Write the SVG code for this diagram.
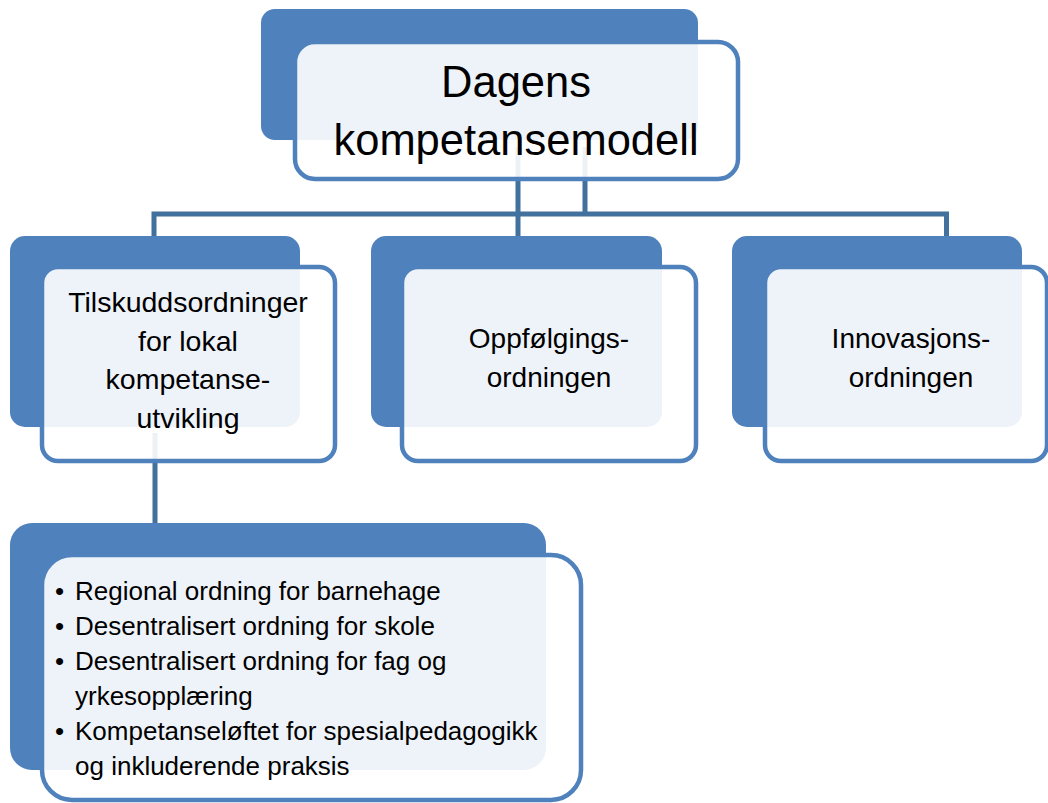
<svg xmlns="http://www.w3.org/2000/svg" width="1048" height="803" viewBox="0 0 1048 803">
<style>
.back{fill:#4F81BD}
.front{fill:#FFFFFF;fill-opacity:0.9;stroke:#4F81BD;stroke-width:4.5}
.conn{stroke:#41719C;stroke-width:5;fill:none}
.t{font-family:"Liberation Sans",Arial,sans-serif;fill:#000;text-anchor:middle}
.b{font-family:"Liberation Sans",Arial,sans-serif;fill:#000;font-size:26px}
</style>
<rect width="1048" height="803" fill="#FFFFFF"/>
<g id="backs">
<rect class="back" x="261" y="9" width="437" height="131" rx="14"/>
<rect class="back" x="10" y="236" width="290" height="191" rx="15"/>
<rect class="back" x="371" y="236" width="291" height="191" rx="15"/>
<rect class="back" x="732" y="236" width="290" height="191" rx="15"/>
<rect class="back" x="10" y="523" width="536" height="247" rx="22"/>
</g>
<g id="connectors">
<polyline class="conn" points="154,236 154,214 946.5,214 946.5,236"/>
<line class="conn" x1="518" y1="147" x2="518" y2="236"/>
<line class="conn" x1="585" y1="147" x2="585" y2="214"/>
<line class="conn" x1="155" y1="433" x2="155" y2="523"/>
</g>
<g id="node-top">
<rect class="front" x="295" y="42" width="443" height="137" rx="20"/>
<text class="t" font-size="43.5" x="516" y="97">Dagens</text>
<text class="t" font-size="43.5" x="516" y="155">kompetansemodell</text>
</g>
<g id="node-tilskudd">
<rect class="front" x="42" y="267" width="293" height="194" rx="16"/>
<text class="t" font-size="28.5" x="188" y="312">Tilskuddsordninger</text>
<text class="t" font-size="28.5" x="188" y="350.5">for lokal</text>
<text class="t" font-size="28.5" x="188" y="389">kompetanse-</text>
<text class="t" font-size="28.5" x="188" y="427.5">utvikling</text>
</g>
<g id="node-oppfolging">
<rect class="front" x="402" y="267" width="294" height="194" rx="16"/>
<text class="t" font-size="28" x="549" y="348">Oppfølgings-</text>
<text class="t" font-size="28" x="549" y="387">ordningen</text>
</g>
<g id="node-innovasjon">
<rect class="front" x="765" y="267" width="282" height="194" rx="16"/>
<text class="t" font-size="28" x="911" y="348">Innovasjons-</text>
<text class="t" font-size="28" x="911" y="387">ordningen</text>
</g>
<g id="node-list">
<rect class="front" x="42" y="555" width="539" height="245" rx="30"/>
<text class="b" x="55" y="600">•</text><text class="b" x="75" y="600">Regional ordning for barnehage</text>
<text class="b" x="55" y="635">•</text><text class="b" x="75" y="635">Desentralisert ordning for skole</text>
<text class="b" x="55" y="670">•</text><text class="b" x="75" y="670">Desentralisert ordning for fag og</text>
<text class="b" x="75" y="705">yrkesopplæring</text>
<text class="b" x="55" y="740">•</text><text class="b" x="75" y="740">Kompetanseløftet for spesialpedagogikk</text>
<text class="b" x="75" y="775">og inkluderende praksis</text>
</g>
</svg>
